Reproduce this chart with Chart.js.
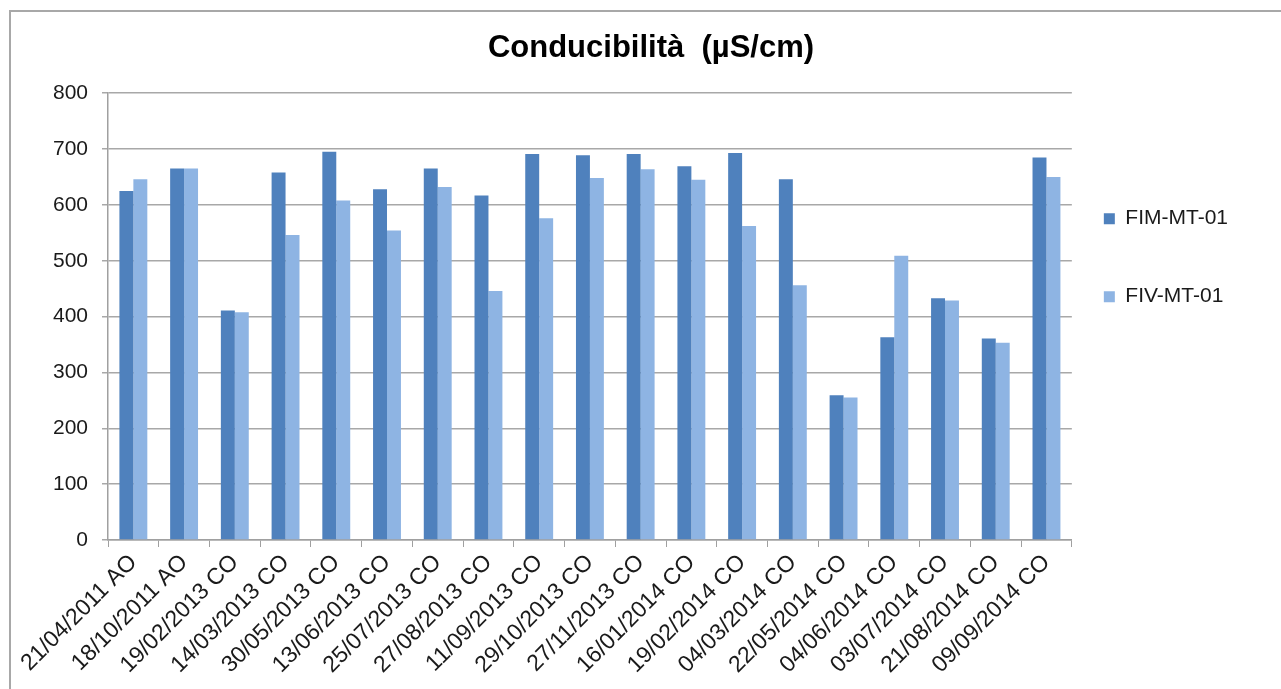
<!DOCTYPE html>
<html>
<head>
<meta charset="utf-8">
<script src="https://cdn.jsdelivr.net/npm/chart.js@4/dist/chart.umd.min.js"></script>
<style>
  html, body { margin: 0; padding: 0; background: #fff; overflow: hidden; }
  #wrap { position: relative; width: 1281px; height: 689px; }
  #frame { position: absolute; left: 9px; top: 10px; width: 1300px; height: 700px; border: 2px solid #a8a8a8; box-sizing: border-box; pointer-events: none; }
  canvas { position: absolute; left: 0; top: 0; }
</style>
</head>
<body>
<div id="wrap">
  <canvas id="c" width="1281" height="689"></canvas>
  <div id="frame"></div>
</div>
<script>
const title = 'Conducibilità  (µS/cm)';
const categories = [
  '21/04/2011 AO', '18/10/2011 AO', '19/02/2013 CO', '14/03/2013 CO', '30/05/2013 CO',
  '13/06/2013 CO', '25/07/2013 CO', '27/08/2013 CO', '11/09/2013 CO', '29/10/2013 CO',
  '27/11/2013 CO', '16/01/2014 CO', '19/02/2014 CO', '04/03/2014 CO', '22/05/2014 CO',
  '04/06/2014 CO', '03/07/2014 CO', '21/08/2014 CO', '09/09/2014 CO'
];
const seriesNames = ['FIM-MT-01', 'FIV-MT-01'];
const fimValues = [625, 665, 411, 658, 695, 628, 665, 617, 691, 689, 691, 669, 693, 646, 259, 363, 433, 361, 685];
const fivValues = [646, 665, 408, 546, 608, 554, 632, 446, 576, 648, 664, 645, 562, 456, 255, 509, 429, 353, 650];
const yTicks = [0, 100, 200, 300, 400, 500, 600, 700, 800];

const FONT = "'Liberation Sans', Arial, sans-serif";

const legendPlacer = {
  id: 'legendPlacer',
  afterLayout(chart) {
    const lg = chart.legend;
    const pad = lg.options.labels.padding;
    const dx = (chart.chartArea.right + 32 - pad) - lg.left;
    lg.left += dx; lg.right += dx;
    const newTop = chart.chartArea.top + 115 - pad;
    const dy = newTop - lg.top;
    lg.top += dy; lg.bottom += dy;
  }
};

new Chart(document.getElementById('c'), {
  type: 'bar',
  data: {
    labels: categories,
    datasets: [
      { label: seriesNames[0], data: fimValues, backgroundColor: '#4F81BD', borderWidth: 0 },
      { label: seriesNames[1], data: fivValues, backgroundColor: '#8EB4E3', borderWidth: 0 }
    ]
  },
  options: {
    responsive: false,
    animation: false,
    devicePixelRatio: 1,
    layout: { padding: { left: 39, right: 18, top: 11, bottom: 0 } },
    datasets: { bar: { categoryPercentage: 0.55, barPercentage: 1.0 } },
    plugins: {
      title: {
        display: true, text: title, color: '#000',
        font: { family: FONT, size: 31, weight: 'bold', lineHeight: 1.2 },
        padding: { top: 19, bottom: 26 }
      },
      legend: {
        display: true, position: 'right', align: 'start',
        labels: {
          color: '#1a1a1a', boxWidth: 11, boxHeight: 11, padding: 57,
          font: { family: FONT, size: 21 }
        }
      },
      tooltip: { enabled: false }
    },
    scales: {
      x: {
        afterFit(scale) { scale.height = 149; },
        grid: { display: true, drawOnChartArea: false, drawTicks: true, tickLength: 7, color: '#a0a0a0', offset: true },
        border: { display: true, color: '#a0a0a0', width: 1.5 },
        ticks: {
          autoSkip: false, maxRotation: 45, minRotation: 45, padding: 2,
          color: '#1a1a1a', font: { family: FONT, size: 23 }
        }
      },
      y: {
        min: 0, max: 800,
        afterFit(scale) { scale.width = 69; },
        afterBuildTicks(scale) { scale.ticks = yTicks.map(v => ({ value: v })); },
        grid: { color: '#a8a8a8', lineWidth: 1.5, drawTicks: true, tickLength: 6 },
        border: { display: true, color: '#a0a0a0', width: 1.5 },
        ticks: { stepSize: 100, padding: 14, color: '#1a1a1a', font: { family: FONT, size: 21 } }
      }
    }
  },
  plugins: [legendPlacer]
});
</script>
</body>
</html>
